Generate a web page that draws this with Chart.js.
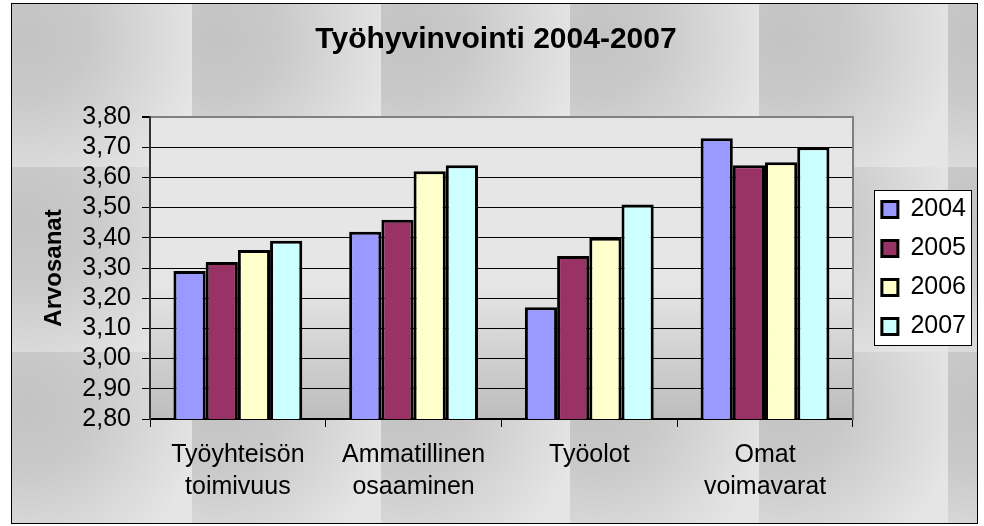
<!DOCTYPE html>
<html><head><meta charset="utf-8">
<script src="https://cdn.jsdelivr.net/npm/chart.js@4/dist/chart.umd.min.js"></script>
<style>html,body{margin:0;padding:0;background:#fff;}</style>
</head><body>
<canvas id="c" width="984" height="526"></canvas>
<script>
const categories = [['Työyhteisön','toimivuus'],['Ammatillinen','osaaminen'],['Työolot'],['Omat','voimavarat']];
const seriesNames = ['2004','2005','2006','2007'];
const values2004 = [3.29, 3.42, 3.17, 3.73];
const values2005 = [3.32, 3.46, 3.34, 3.64];
const values2006 = [3.36, 3.62, 3.40, 3.65];
const values2007 = [3.39, 3.64, 3.51, 3.70];
const seriesColors = ['#9999FF','#993366','#FFFFCC','#CCFFFF'];
const yTickLabels = ['2,80','2,90','3,00','3,10','3,20','3,30','3,40','3,50','3,60','3,70','3,80'];
const Y_MIN = 2.8, Y_MAX = 3.8, Y_STEP = 0.1;
const titleText = 'Työhyvinvointi 2004-2007';
const yTitleText = 'Arvosanat';

Chart.defaults.font.family = '"Liberation Sans", Arial, sans-serif';
Chart.defaults.color = '#000';

const allValues = [values2004, values2005, values2006, values2007];

const bgPlugin = {
  id: 'bgTexture',
  beforeDraw(chart) {
    const ctx = chart.ctx, W = chart.width, H = chart.height;
    ctx.save();
    ctx.fillStyle = '#fff';
    ctx.fillRect(0, 0, W, H);
    ctx.beginPath(); ctx.rect(12, 4, 965, 519); ctx.clip();
    const tw = 189, th = 185;
    for (let x0 = 3; x0 < W; x0 += tw) {
      for (let y0 = -18; y0 < H; y0 += th) {
        const g = ctx.createRadialGradient(x0 + 25, y0 + 55, 0, x0 + 25, y0 + 55, 175);
        g.addColorStop(0, '#c3c3c3');
        g.addColorStop(0.35, '#c9c9c9');
        g.addColorStop(1, '#e5e5e5');
        ctx.fillStyle = g;
        ctx.fillRect(x0, y0, tw, th);
      }
    }
    ctx.restore();
    const a = chart.chartArea;
    ctx.save();
    const pg = ctx.createLinearGradient(0, a.top, 0, a.bottom);
    pg.addColorStop(0, '#e6e6e6');
    pg.addColorStop(0.55, '#e6e6e6');
    pg.addColorStop(1, '#bdbdbd');
    ctx.fillStyle = pg;
    ctx.fillRect(a.left, a.top, a.right - a.left, a.bottom - a.top);
    const lg = chart.legend;
    if (lg && lg.legendHitBoxes && lg.legendHitBoxes.length) {
      const hb = lg.legendHitBoxes;
      const first = hb[0], last = hb[hb.length - 1];
      const bx = Math.round(first.left - 8) + 0.5;
      const by = Math.round(first.top + first.height / 2 - 20) + 0.5;
      const bb = Math.round(last.top + last.height / 2 + 18) + 0.5;
      ctx.fillStyle = '#fff';
      ctx.fillRect(bx, by, 97, bb - by);
      ctx.strokeStyle = '#000';
      ctx.lineWidth = 1;
      ctx.strokeRect(bx, by, 97, bb - by);
    }
    ctx.restore();
  },
  afterDraw(chart) {
    const ctx = chart.ctx;
    ctx.save();
    ctx.strokeStyle = '#000';
    ctx.lineWidth = 1;
    ctx.strokeRect(11.5, 3.5, 966, 520);
    ctx.restore();
  }
};

new Chart(document.getElementById('c'), {
  type: 'bar',
  data: {
    labels: categories,
    datasets: seriesNames.map((name, i) => ({
      label: name,
      data: allValues[i],
      backgroundColor: seriesColors[i],
      borderColor: '#000',
      borderWidth: 3,
      categoryPercentage: 0.733,
      barPercentage: 1.0
    }))
  },
  options: {
    responsive: false,
    animation: false,
    devicePixelRatio: 1,
    layout: { padding: { left: 16, right: 8, top: 0, bottom: 0 } },
    plugins: {
      tooltip: { enabled: false },
      title: {
        display: true,
        text: titleText,
        font: { size: 30, weight: 'bold' },
        color: '#000',
        padding: { top: 22, bottom: 59 }
      },
      legend: {
        position: 'right',
        fullSize: false,
        align: 'center',
        labels: {
          boxWidth: 16,
          boxHeight: 16,
          padding: 14,
          font: { size: 25 },
          color: '#000'
        }
      }
    },
    scales: {
      x: {
        offset: true,
        grid: { display: true, offset: true, drawOnChartArea: false, drawTicks: true, tickLength: 8, color: '#000', lineWidth: 1 },
        border: { display: true, color: '#000', width: 2 },
        ticks: { font: { size: 25, lineHeight: 1.28 }, color: '#000', padding: 12, maxRotation: 0, autoSkip: false },
        afterFit(s) { s.height = 107; }
      },
      y: {
        min: Y_MIN, max: Y_MAX,
        ticks: {
          stepSize: Y_STEP,
          autoSkip: false,
          font: { size: 25 },
          color: '#000',
          padding: 11,
          callback: (v) => yTickLabels[Math.round((v - Y_MIN) / Y_STEP)]
        },
        grid: {
          color: (c) => (c.tick && c.tick.value > Y_MAX - Y_STEP / 2) ? '#808080' : '#000',
          lineWidth: (c) => (c.tick && c.tick.value > Y_MAX - Y_STEP / 2) ? 2 : 1,
          tickColor: '#000',
          tickLength: 8,
          drawTicks: true
        },
        border: { display: true, color: '#333', width: 2 },
        title: { display: true, text: yTitleText, font: { size: 24, weight: 'bold' }, color: '#000', padding: { top: 24, bottom: 0 } },
        afterFit(s) { s.width = 134; }
      },
      yRight: {
        type: 'linear',
        position: 'right',
        min: Y_MIN, max: Y_MAX,
        grid: { display: false },
        ticks: { display: false },
        border: { display: true, color: '#808080', width: 2 },
        afterFit(s) { s.width = 15; }
      }
    }
  },
  plugins: [bgPlugin]
});
</script>
</body></html>
